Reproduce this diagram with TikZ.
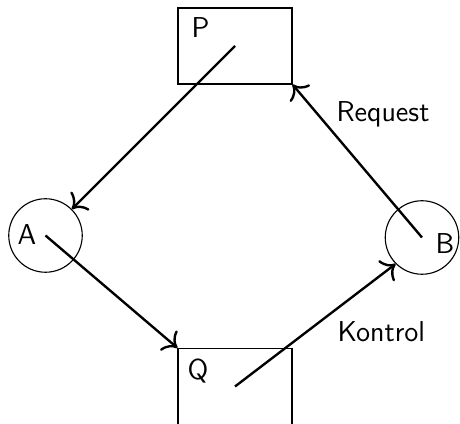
\documentclass[tikz,border=0pt]{standalone}
\usetikzlibrary{arrows.meta}
\begin{document}
\begin{tikzpicture}[x=0.4pt, y=-0.4pt,
  every node/.style={font=\fontsize{11.5}{13.5}\selectfont\sffamily},
  boxnode/.style={draw, line width=0.45pt, rectangle, inner sep=0pt,
    minimum width=45.6pt, minimum height=30.4pt},
  roundnode/.style={draw, line width=0.45pt, circle, inner sep=0pt,
    minimum size=29.4pt},
  tag/.style={anchor=base west, inner sep=0pt},
  arr/.style={-{To[scale=1.35]}, line width=0.95pt}]
  \useasboundingbox (0,0) rectangle (460,424);
  \clip (0,0) rectangle (460,424);

  % the four places
  \node[boxnode]   (P) at (235,46)    {};
  \node[boxnode]   (Q) at (235,386.5) {};
  \node[roundnode] (A) at (45.5,235.5) {};
  \node[roundnode] (B) at (422,237.5) {};

  % their names
  \node[tag] (lP) at (191,38)  {P};
  \node[tag] (lQ) at (187,380) {Q};
  \node[tag] (lA) at (17,245)  {A};
  \node[tag] (lB) at (435,254) {B};

  % connectors
  \draw[arr] (P.center) -- (A.north east);
  \draw[arr] (A.center) -- (Q.north west);
  \draw[arr] (Q.center) -- (B.south west);
  \draw[arr] (B.center) -- (P.south east);

  % edge labels
  \node[tag] (req) at (336,122) {Request};
  \node[tag] (kon) at (337,342) {Kontrol};
\end{tikzpicture}
\end{document}
